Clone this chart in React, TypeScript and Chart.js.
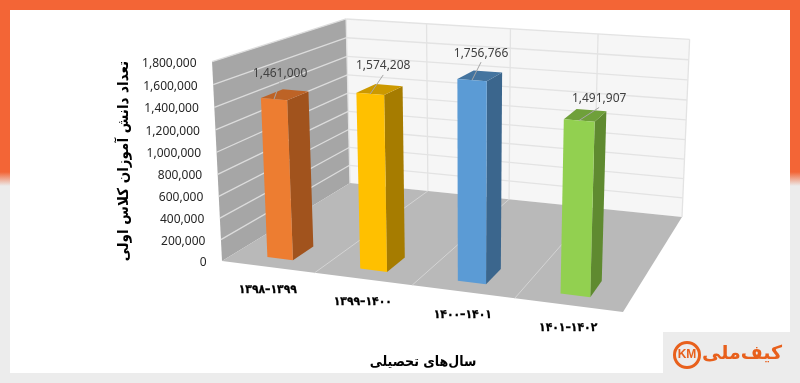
import React, { useEffect, useRef } from "react";
import { Chart, registerables } from "chart.js";

Chart.register(...registerables);

const categories = ["۱۳۹۸–۱۳۹۹", "۱۳۹۹–۱۴۰۰", "۱۴۰۰–۱۴۰۱", "۱۴۰۱–۱۴۰۲"];
const students = [1461000, 1574208, 1756766, 1491907];
const yTickStep = 200000;
const yMax = 1800000;
const yTitle = "تعداد دانش آموزان کلاس اولی";
const xTitle = "سال‌های تحصیلی";
const logoText = "کیف‌ملی";

const frontColors = ["#ed7d31", "#ffc000", "#5b9bd5", "#92d050"];
const topColors = ["#bd6326", "#cc9900", "#44749f", "#6fa03a"];
const sideColors = ["#a1531d", "#a67c00", "#3b668d", "#5f8a30"];

// Box corners on the page, used to fit the perspective projection.
type P2 = [number, number];
const FLB: P2 = [222, 261], FRB: P2 = [623, 312], BRB: P2 = [682, 217], BLB: P2 = [350, 183];
const FLT: P2 = [213, 62], BLT: P2 = [345, 20], BRT: P2 = [690, 38];
const Z_FRONT = 0.085;
const Z_BACK = 0.235;
const labelOffsets: P2[] = [[6, -26], [13, -28], [9, -27], [20, -22]];

function solve3(m: number[][], v: number[]) {
  const a = m.map((r, i) => [...r, v[i]]);
  for (let i = 0; i < 3; i++) {
    let piv = i;
    for (let k = i + 1; k < 3; k++) if (Math.abs(a[k][i]) > Math.abs(a[piv][i])) piv = k;
    [a[i], a[piv]] = [a[piv], a[i]];
    for (let k = 0; k < 3; k++) {
      if (k === i) continue;
      const f = a[k][i] / a[i][i];
      for (let j = i; j < 4; j++) a[k][j] -= f * a[i][j];
    }
  }
  return a.map((r, i) => r[3] / r[i]);
}

function makeProjection() {
  const [x0, y0] = FLB, [x1, y1] = FRB, [x2, y2] = BRB, [x3, y3] = BLB;
  const dx1 = x1 - x2, dx2 = x3 - x2, sx = x0 - x1 + x2 - x3;
  const dy1 = y1 - y2, dy2 = y3 - y2, sy = y0 - y1 + y2 - y3;
  const den = dx1 * dy2 - dx2 * dy1;
  const g = (sx * dy2 - dx2 * sy) / den;
  const h = (dx1 * sy - sx * dy1) / den;
  const a = x1 - x0 + g * x1, b = x3 - x0 + h * x3, c = x0;
  const d = y1 - y0 + g * y1, e = y3 - y0 + h * y3, f = y0;
  const tops: [number, number, P2][] = [[0, 0, FLT], [0, 1, BLT], [1, 1, BRT]];
  const N = [[0, 0, 0], [0, 0, 0], [0, 0, 0]];
  const R = [0, 0, 0];
  const add = (row: number[], rhs: number) => {
    for (let i = 0; i < 3; i++) {
      for (let j = 0; j < 3; j++) N[i][j] += row[i] * row[j];
      R[i] += row[i] * rhs;
    }
  };
  for (const [X, Z, [x, y]] of tops) {
    const W = g * X + h * Z + 1;
    add([1, 0, -x], x * W - (a * X + b * Z + c));
    add([0, 1, -y], y * W - (d * X + e * Z + f));
  }
  const [p, q, r] = solve3(N, R);
  return (X: number, Y: number, Z: number): P2 => {
    const w = g * X + h * Z + 1 + r * Y;
    return [(a * X + b * Z + c + p * Y) / w, (d * X + e * Z + f + q * Y) / w];
  };
}
const project = makeProjection();

function poly(ctx: CanvasRenderingContext2D, pts: P2[], fill: string) {
  ctx.beginPath();
  pts.forEach(([x, y], i) => (i ? ctx.lineTo(x, y) : ctx.moveTo(x, y)));
  ctx.closePath();
  ctx.fillStyle = fill;
  ctx.fill();
}
function seg(ctx: CanvasRenderingContext2D, a: P2, b: P2, color: string, w: number) {
  ctx.beginPath();
  ctx.moveTo(a[0], a[1]);
  ctx.lineTo(b[0], b[1]);
  ctx.strokeStyle = color;
  ctx.lineWidth = w;
  ctx.stroke();
}

const scenePlugin = {
  id: "scene",
  beforeDraw(chart: any) {
    const { ctx, chartArea: area, scales } = chart;
    const W = chart.width, H = chart.height;
    const ux = (px: number) => (px - area.left) / (area.right - area.left);
    const uy = (py: number) => (area.bottom - py) / (area.bottom - area.top);

    ctx.save();
    // page backdrop
    const bg = ctx.createLinearGradient(0, 0, 0, H);
    bg.addColorStop(0, "#f36536");
    bg.addColorStop(172 / H, "#f36536");
    bg.addColorStop(186 / H, "#ececec");
    bg.addColorStop(1, "#ececec");
    ctx.fillStyle = bg;
    ctx.fillRect(0, 0, W, H);
    ctx.fillStyle = "#ffffff";
    ctx.fillRect(10, 10, 780, 363);
    ctx.fillStyle = "#ececec";
    ctx.fillRect(663, 332, 127, 41);

    // walls and floor
    poly(ctx, [project(0, 0, 0), project(0, 1, 0), project(0, 1, 1), project(0, 0, 1)], "#a6a6a6");
    poly(ctx, [project(0, 0, 1), project(0, 1, 1), project(1, 1, 1), project(1, 0, 1)], "#f6f6f6");
    poly(ctx, [project(0, 0, 0), project(1, 0, 0), project(1, 0, 1), project(0, 0, 1)], "#b9b9b9");

    // value grid lines on the two walls, from the y axis ticks
    scales.y.ticks.forEach((t: any) => {
      const Y = uy(scales.y.getPixelForValue(t.value));
      if (Y > 0) seg(ctx, project(0, Y, 0), project(0, Y, 1), "#dcdcdc", 1.3);
      if (Y > 0) seg(ctx, project(0, Y, 1), project(1, Y, 1), "#e3e3e3", 1.3);
    });
    // category boundaries on the floor and the back wall, from the x axis
    categories.forEach((_, i) => {
      const X = ux(scales.x.getPixelForValue(i + 0.5));
      if (i < categories.length - 1) {
        seg(ctx, project(X, 0, 0), project(X, 0, 1), "#d4d4d4", 1);
      }
      seg(ctx, project(X, 0, 1), project(X, 1, 1), "#e3e3e3", 1.3);
    });
    seg(ctx, project(0, 0, 1), project(0, 1, 1), "#e3e3e3", 1.3);

    // logo
    ctx.strokeStyle = "#e8601c";
    ctx.lineWidth = 3;
    ctx.beginPath();
    ctx.arc(687, 355, 12.5, 0, Math.PI * 2);
    ctx.stroke();
    ctx.fillStyle = "#e8601c";
    ctx.font = "bold 12px 'Liberation Sans'";
    ctx.textAlign = "center";
    ctx.textBaseline = "middle";
    ctx.fillText("KM", 687, 355);
    ctx.font = "bold 19px 'DejaVu Sans'";
    ctx.fillText(logoText, 742, 354);
    ctx.restore();

    // move the library's tick labels onto the projected box edges
    scales.y.getLabelItems(area).forEach((item: any, i: number) => {
      const Y = uy(scales.y.getPixelForValue(scales.y.ticks[i].value));
      const [x, y] = project(0, Y, 0);
      item.options.translation = [x - 15.5, y + 1.5];
      item.options.textAlign = "right";
      item.options.textBaseline = "middle";
    });
    scales.x.getLabelItems(area).forEach((item: any, i: number) => {
      const X = ux(scales.x.getPixelForValue(i));
      const [x, y] = project(X, 0, 0);
      item.options.translation = [x, y + 23];
      item.options.textAlign = "center";
      item.options.textBaseline = "middle";
      item.textOffset = 0;
    });
  },
  beforeDatasetDraw() {
    return false; // the flat bars are replaced by the extruded ones below
  },
  afterDatasetsDraw(chart: any) {
    const { ctx, chartArea: area } = chart;
    const meta = chart.getDatasetMeta(0);
    const ux = (px: number) => (px - area.left) / (area.right - area.left);
    const uy = (py: number) => (area.bottom - py) / (area.bottom - area.top);
    meta.data.forEach((bar: any, i: number) => {
      const x0 = ux(bar.x - bar.width / 2), x1 = ux(bar.x + bar.width / 2);
      const yb = uy(bar.base), yt = uy(bar.y);
      const f = Z_FRONT, b = Z_BACK;
      poly(ctx, [project(x1, yb, f), project(x1, yt, f), project(x1, yt, b), project(x1, yb, b)], sideColors[i]);
      poly(ctx, [project(x0, yt, f), project(x1, yt, f), project(x1, yt, b), project(x0, yt, b)], topColors[i]);
      poly(ctx, [project(x0, yb, f), project(x1, yb, f), project(x1, yt, f), project(x0, yt, f)], frontColors[i]);

      // value label with its leader line
      const end = project(ux(bar.x), yt, f);
      const tx = end[0] + labelOffsets[i][0];
      const ty = end[1] + labelOffsets[i][1];
      seg(ctx, [tx, ty + 9], end, "#a6a6a6", 1);
      ctx.save();
      ctx.font = "12px 'Noto Sans'";
      ctx.fillStyle = "#404040";
      ctx.textAlign = "center";
      ctx.textBaseline = "middle";
      ctx.fillText(students[i].toLocaleString("en-US"), tx, ty);
      ctx.restore();
    });
  },
};

export default function App() {
  const ref = useRef<HTMLCanvasElement>(null);
  useEffect(() => {
    document.body.style.margin = "0";
    const chart = new Chart(ref.current!, {
      type: "bar",
      data: {
        labels: categories,
        datasets: [{ data: students, backgroundColor: frontColors, barPercentage: 0.56, categoryPercentage: 0.5 }],
      },
      plugins: [scenePlugin],
      options: {
        animation: false,
        responsive: false,
        layout: { padding: { left: 115, right: 176, top: 60, bottom: 12 } },
        plugins: { legend: { display: false }, tooltip: { enabled: false } },
        scales: {
          x: {
            grid: { display: false },
            border: { display: false },
            afterFit: (s: any) => { s.height = 109; s.paddingLeft = 0; s.paddingRight = 0; },
            ticks: {
              autoSkip: false,
              maxRotation: 0,
              color: "#000000",
              textStrokeColor: "#000000",
              textStrokeWidth: 0.3,
              font: { family: "'DejaVu Sans Condensed', 'DejaVu Sans'", size: 12, weight: "bold" },
            },
            title: {
              display: true,
              text: xTitle,
              color: "#000000",
              padding: 0,
              font: { family: "'DejaVu Sans Condensed', 'DejaVu Sans'", size: 14, weight: "bold" },
            },
          },
          y: {
            min: 0,
            max: yMax,
            grid: { display: false },
            border: { display: false },
            afterFit: (s: any) => { s.width = 107; s.paddingTop = 0; s.paddingBottom = 0; },
            ticks: {
              stepSize: yTickStep,
              color: "#262626",
              font: { family: "'Noto Sans'", size: 12 },
              callback: (v: any) => Number(v).toLocaleString("en-US"),
            },
            title: {
              display: true,
              text: yTitle,
              color: "#000000",
              padding: 0,
              font: { family: "'DejaVu Sans Condensed', 'DejaVu Sans'", size: 15, weight: "bold" },
            },
          },
        },
      },
    } as any);
    return () => chart.destroy();
  }, []);
  return <canvas ref={ref} width={800} height={383} style={{ display: "block" }} />;
}
